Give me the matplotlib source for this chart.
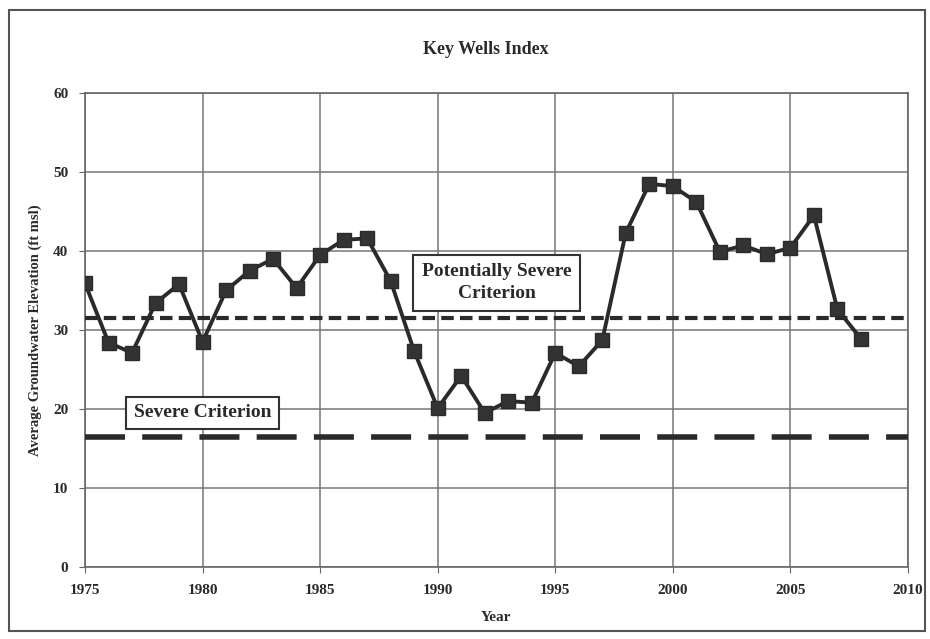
import matplotlib
matplotlib.use('Agg')
import matplotlib.pyplot as plt
from matplotlib.patches import Rectangle

# datos
years = list(range(1975, 2009))
elevation = [35.9, 28.4, 27.1, 33.4, 35.8, 28.5, 35.0, 37.5, 39.0, 35.3,
             39.5, 41.4, 41.6, 36.2, 27.3, 20.1, 24.2, 19.5, 21.0, 20.8,
             27.1, 25.4, 28.7, 42.3, 48.5, 48.2, 46.2, 39.9, 40.7, 39.6,
             40.4, 44.5, 32.6, 28.9]
potentially_severe = 31.5
severe = 16.4

plt.rcParams['font.family'] = ['Liberation Serif', 'DejaVu Serif']
plt.rcParams['font.weight'] = 'bold'

fig = plt.figure(figsize=(9.3, 6.39), dpi=100)
ax = fig.add_axes([0.0914, 0.1127, 0.8849, 0.7418])

# marco exterior
fig.patches.append(Rectangle((0.010, 0.012), 0.985, 0.972, transform=fig.transFigure,
                             fill=False, edgecolor='#555555', linewidth=1.5))

ax.plot(years, elevation, color='#2a2a2a', linewidth=2.8, marker='s',
        markersize=9.5, markerfacecolor='#333333', markeredgecolor='#2a2a2a', zorder=4)
ax.axhline(potentially_severe, color='#2a2a2a', linewidth=3,
           linestyle=(0, (3, 1.5)), zorder=3)
ax.axhline(severe, color='#2a2a2a', linewidth=4,
           linestyle=(0, (7.2, 3.1)), zorder=3)

ax.text(1992.5, 36.0, 'Potentially Severe\nCriterion', ha='center', va='center',
        fontsize=14, fontweight='bold', color='#2a2a2a', linespacing=1.35,
        bbox=dict(boxstyle='square,pad=0.45', facecolor='white', edgecolor='#333333',
                  linewidth=1.5), zorder=5)
ax.text(1980.0, 19.5, 'Severe Criterion', ha='center', va='center',
        fontsize=14, fontweight='bold', color='#2a2a2a',
        bbox=dict(boxstyle='square,pad=0.4', facecolor='white', edgecolor='#333333',
                  linewidth=1.5), zorder=5)

ax.set_xlim(1975, 2010)
ax.set_ylim(0, 60)
ax.set_xticks(range(1975, 2011, 5))
ax.set_yticks(range(0, 61, 10))
ax.grid(True, color='#777777', linewidth=1.1)
ax.set_axisbelow(True)
for s in ax.spines.values():
    s.set_color('#666666')
    s.set_linewidth(1.2)
ax.tick_params(axis='both', labelsize=11, color='#666666', length=4, pad=8)
for lab in ax.get_xticklabels() + ax.get_yticklabels():
    lab.set_fontweight('bold')
    lab.set_color('#2a2a2a')

fig.text(0.522, 0.922, 'Key Wells Index', ha='center', va='center',
         fontsize=13, fontweight='bold', color='#2a2a2a')
ax.set_xlabel('Year', fontsize=11, fontweight='bold', color='#2a2a2a', labelpad=10)
ax.set_ylabel('Average Groundwater Elevation (ft msl)', fontsize=10.5,
              fontweight='bold', color='#2a2a2a', labelpad=8)

fig.savefig('out.png', dpi=100, facecolor='white')
